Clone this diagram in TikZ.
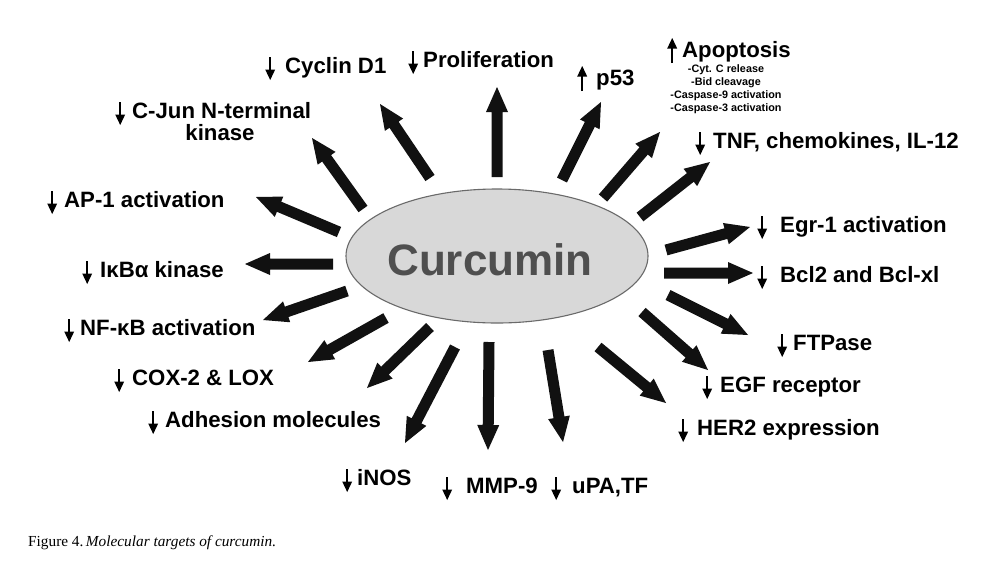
\documentclass[tikz,border=0pt]{standalone}
\usepackage{fontspec}
\setmainfont{Liberation Sans}
\newfontfamily\capfont{Liberation Serif}
\usetikzlibrary{calc,shapes.geometric}
\definecolor{arrowcol}{HTML}{111111}
\definecolor{ellfill}{HTML}{D8D8D8}
\definecolor{elldraw}{HTML}{6A6A6A}
\definecolor{curcol}{HTML}{4F4F4F}
\newcommand{\dnar}{\tikz[baseline=0pt]{\draw[line width=1.8pt] (0pt,16pt)--(0pt,2pt); \fill (-5pt,3.5pt)--(5pt,3.5pt)--(0pt,-7pt)--cycle;}}
\newcommand{\upar}{\tikz[baseline=0pt]{\draw[line width=1.8pt] (0pt,-6pt)--(0pt,9pt); \fill (-5pt,8.5pt)--(5pt,8.5pt)--(0pt,19pt)--cycle;}}
\newcommand{\bigarr}[2]{%
  \path ($(#2)!25pt!(#1)$) coordinate (nk);
  \fill[bigarrow] ($(#1)!5.5pt!90:(#2)$) -- ($(nk)!5.5pt!90:(#2)$) -- ($(nk)!11pt!90:(#2)$) -- (#2) -- ($(nk)!11pt!-90:(#2)$) -- ($(nk)!5.5pt!-90:(#2)$) -- ($(#1)!5.5pt!-90:(#2)$) -- cycle;}
\tikzset{
  bigarrow/.style={fill=arrowcol},
  lbl/.style={font=\fontsize{22.2}{26}\selectfont\bfseries, inner sep=0pt, anchor=base west, text=black},
  sublbl/.style={font=\fontsize{10.8}{13}\selectfont\bfseries, inner sep=0pt, anchor=base, text=black},
}
\begin{document}
\begin{tikzpicture}[x=1pt,y=-1pt]
\useasboundingbox (0,0) rectangle (992,579);
\fill[white] (0,0) rectangle (992,579);
% central ellipse
\node[ellipse, draw=elldraw, fill=ellfill, line width=1.1pt, inner sep=0pt, outer sep=0pt, minimum width=302pt, minimum height=134pt] (curc) at (497,256) {};
\node[font=\fontsize{44}{50}\selectfont\bfseries, text=curcol, inner sep=0pt, anchor=base] (curtext) at (490,275) {Curcumin};

% arrow end points
\coordinate (tCyc) at (430,178); \coordinate (hCyc) at (380,104);
\coordinate (tPro) at (497,177); \coordinate (hPro) at (497,87);
\coordinate (tJun) at (363,209); \coordinate (hJun) at (312,138);
\coordinate (tAP) at (339,232); \coordinate (hAP) at (256,197);
\coordinate (tIkb) at (333,264); \coordinate (hIkb) at (245,264);
\coordinate (tNF) at (347,291); \coordinate (hNF) at (263,320);
\coordinate (tCox) at (386,318); \coordinate (hCox) at (308,362);
\coordinate (tAdh) at (430,327); \coordinate (hAdh) at (367,388);
\coordinate (tInos) at (455,347); \coordinate (hInos) at (405,443);
\coordinate (tMmp) at (489,342); \coordinate (hMmp) at (488,450);
\coordinate (tUpa) at (548,350); \coordinate (hUpa) at (563,442);
\coordinate (tHer) at (598,347); \coordinate (hHer) at (666,403);
\coordinate (tEgf) at (642,312); \coordinate (hEgf) at (708,370);
\coordinate (tFtp) at (668,295); \coordinate (hFtp) at (748,335);
\coordinate (tBcl) at (664,273); \coordinate (hBcl) at (753,273);
\coordinate (tEgr) at (666,250); \coordinate (hEgr) at (750,227);
\coordinate (tTnf) at (640,217); \coordinate (hTnf) at (710,162);
\coordinate (tApo) at (603,198); \coordinate (hApo) at (660,132);
\coordinate (tP53) at (562,180); \coordinate (hP53) at (601,102);

\bigarr{tCyc}{hCyc}
\bigarr{tPro}{hPro}
\bigarr{tJun}{hJun}
\bigarr{tAP}{hAP}
\bigarr{tIkb}{hIkb}
\bigarr{tNF}{hNF}
\bigarr{tCox}{hCox}
\bigarr{tAdh}{hAdh}
\bigarr{tInos}{hInos}
\bigarr{tMmp}{hMmp}
\bigarr{tUpa}{hUpa}
\bigarr{tHer}{hHer}
\bigarr{tEgf}{hEgf}
\bigarr{tFtp}{hFtp}
\bigarr{tBcl}{hBcl}
\bigarr{tEgr}{hEgr}
\bigarr{tTnf}{hTnf}
\bigarr{tApo}{hApo}
\bigarr{tP53}{hP53}

% labels
\node[lbl] (lCyc) at (265,73) {\dnar\hspace{10pt}Cyclin D1};
\node[lbl] (lPro) at (408,67) {\dnar\hspace{5pt}Proliferation};
\node[lbl] (lJun) at (115,118) {\dnar\hspace{7pt}C-Jun N-terminal};
\node[lbl, anchor=base] (lJun2) at (220,140) {kinase};
\node[lbl] (lAP) at (47,207) {\dnar\hspace{7pt}AP-1 activation};
\node[lbl] (lIkb) at (82,277) {\dnar\hspace{8pt}IκBα kinase};
\node[lbl] (lNF) at (64,335) {\dnar\hspace{6pt}NF-κB activation};
\node[lbl] (lCox) at (114,385) {\dnar\hspace{8pt}COX-2 \& LOX};
\node[lbl] (lAdh) at (148,427) {\dnar\hspace{7pt}Adhesion molecules};
\node[lbl] (lInos) at (342,485) {\dnar\hspace{5pt}iNOS};
\node[lbl] (lMmp) at (442,493) {\dnar\hspace{14pt}MMP-9};
\node[lbl] (lUpa) at (551,493) {\dnar\hspace{11pt}uPA,TF};
\node[lbl] (lP53) at (577,85) {\upar\hspace{9pt}p53};
\node[lbl] (lApo) at (667,57) {\upar\hspace{5pt}Apoptosis};
\node[sublbl] (lApo1) at (726,72) {-Cyt. C release};
\node[sublbl] (lApo2) at (726,85) {-Bid cleavage};
\node[sublbl] (lApo3) at (726,98) {-Caspase-9 activation};
\node[sublbl] (lApo4) at (726,111) {-Caspase-3 activation};
\node[lbl] (lTnf) at (695,148) {\dnar\hspace{8pt}TNF, chemokines, IL-12};
\node[lbl] (lEgr) at (757,232) {\dnar\hspace{13pt}Egr-1 activation};
\node[lbl] (lBcl) at (757,282) {\dnar\hspace{13pt}Bcl2 and Bcl-xl};
\node[lbl] (lFtp) at (777,350) {\dnar\hspace{6pt}FTPase};
\node[lbl] (lEgf) at (702,392) {\dnar\hspace{8pt}EGF receptor};
\node[lbl] (lHer) at (678,435) {\dnar\hspace{9pt}HER2 expression};

% caption
\node[font=\capfont\fontsize{15.3}{18}\selectfont, inner sep=0pt, anchor=base west] (cap) at (28,546) {Figure 4.\,\textit{Molecular targets of curcumin.}};
\end{tikzpicture}
\end{document}
